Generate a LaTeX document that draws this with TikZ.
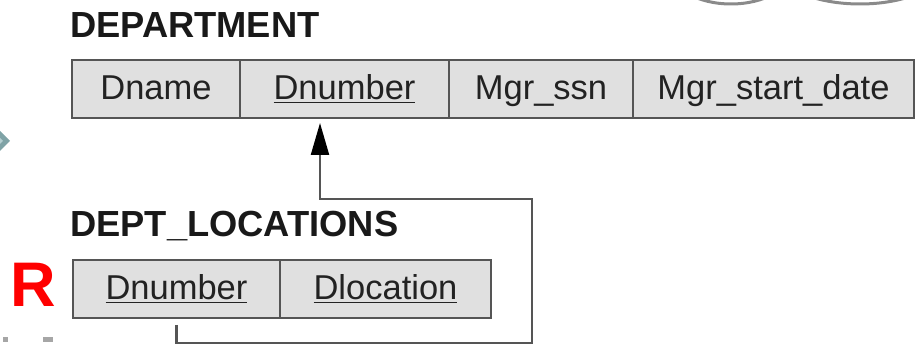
\documentclass[tikz,border=0pt]{standalone}
\usepackage{xcolor}
\usepackage{fontspec}
\setmainfont{Liberation Sans}
\usepackage{tikz}
\usetikzlibrary{positioning,calc,arrows.meta}

\definecolor{cellfill}{HTML}{E0E0E0}
\definecolor{celledge}{HTML}{555555}
\definecolor{celltext}{HTML}{222222}
\definecolor{chevouter}{HTML}{7FA3A6}
\definecolor{chevinner}{HTML}{B5CFD1}
\definecolor{arcgrey}{HTML}{8A8A8A}
\newcommand{\keyattr}[1]{\underline{#1}}

\tikzset{
  cell/.style={draw=celledge, fill=cellfill, line width=2.2pt, minimum height=58pt,
    inner sep=0pt, outer sep=0pt, text=celltext, font=\fontsize{34.5}{40}\selectfont,
    text height=24pt, text depth=2pt},
  reltitle/.style={anchor=base west, inner sep=0pt, text=black!90,
    font=\fontsize{36.3}{40}\selectfont\bfseries},
  fkline/.style={draw=celledge, line width=2.2pt,
    -{Triangle[length=32pt,width=18pt,color=black]}}
}

\begin{document}
\begin{tikzpicture}[x=1pt,y=1pt]
    \useasboundingbox (0,0) rectangle (916,344);

    % Slide leftovers
    \begin{scope}
        \clip (0,0) rectangle (916,344);
        \draw[arcgrey, line width=3pt] (731,374) ellipse [x radius=60pt, y radius=34pt];
        \draw[arcgrey, line width=3pt] (860,374) ellipse [x radius=80pt, y radius=34pt];
        \fill[chevouter] (-3,216) -- (10,203) -- (-3,190) -- (-16,203) -- cycle;
        \fill[chevinner] (-3,209) -- (3,203) -- (-3,197) -- cycle;
    \end{scope}
    \fill[gray!70] (3,2) rectangle (8,7);
    \fill[gray!70] (43,2) rectangle (53,7);
    \node[font=\fontsize{63}{70}\selectfont\bfseries, text=red, anchor=base west, inner sep=0pt] (rmark) at (10.5,37) {R};

    % DEPARTMENT
    \node[reltitle] (depttitle) at (70,306) {DEPARTMENT};
    \node[cell, minimum width=168pt, anchor=north west] (dname) at (72,284) {Dname};
    \node[cell, minimum width=209pt, right=0pt of dname] (dnum) {\keyattr{Dnumber}};
    \node[cell, minimum width=184pt, right=0pt of dnum] (mgrssn) {Mgr\_ssn};
    \node[cell, minimum width=281pt, right=0pt of mgrssn] (mgrdate) {Mgr\_start\_date};

    % DEPT_LOCATIONS
    \node[reltitle] (loctitle) at (70,107) {DEPT\_LOCATIONS};
    \node[cell, minimum width=207pt, anchor=north west] (lnum) at (73,84) {\keyattr{Dnumber}};
    \node[cell, minimum width=211pt, right=0pt of lnum] (lloc) {\keyattr{Dlocation}};

    % Foreign key
    \coordinate (fkturn) at (532,145);
    \draw[fkline] ([yshift=-7pt]lnum.south) -- ++(0,-18pt) -| (fkturn)
        -| ([shift={(-24.5pt,-5pt)}]dnum.south);
\end{tikzpicture}
\end{document}
